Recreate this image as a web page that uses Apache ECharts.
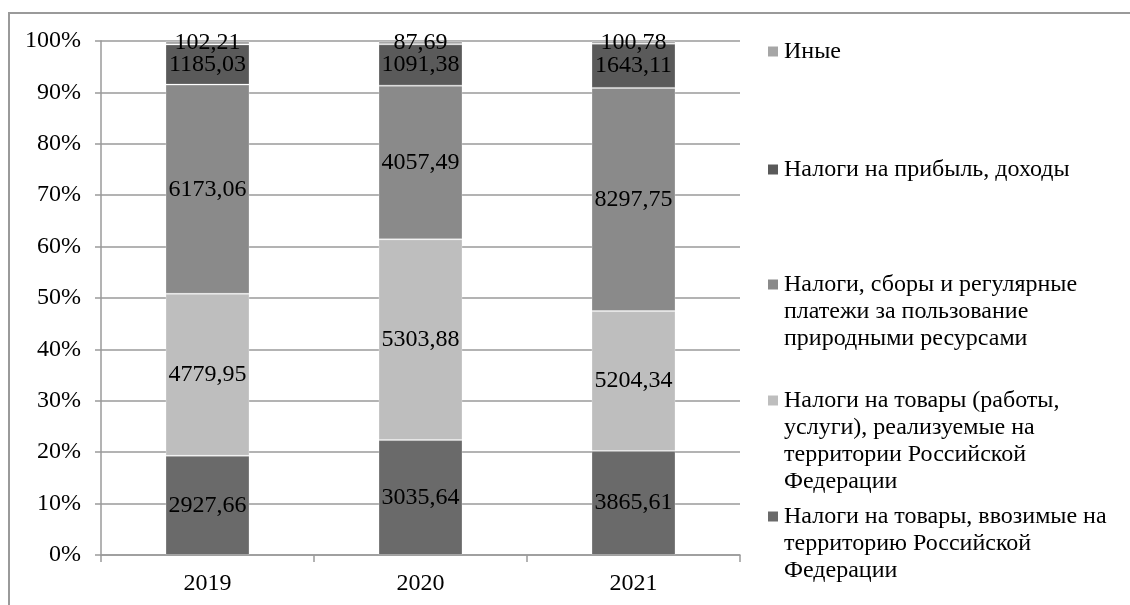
<!DOCTYPE html>
<html>
<head>
<meta charset="utf-8">
<script src="https://cdn.jsdelivr.net/npm/echarts@6/dist/echarts.min.js"></script>
<style>
html,body{margin:0;padding:0;background:#fff;}
#chart{width:1130px;height:605px;}
</style>
</head>
<body>
<div id="chart"></div>
<script>
// ---- data ----
var categories = ['2019', '2020', '2021'];
var importTaxes   = [2927.66, 3035.64, 3865.61]; // Налоги на товары, ввозимые на территорию РФ
var goodsTaxes    = [4779.95, 5303.88, 5204.34]; // Налоги на товары (работы, услуги), реализуемые на территории РФ
var resourceTaxes = [6173.06, 4057.49, 8297.75]; // Налоги, сборы и регулярные платежи за пользование природными ресурсами
var profitTaxes   = [1185.03, 1091.38, 1643.11]; // Налоги на прибыль, доходы
var otherTaxes    = [102.21, 87.69, 100.78];     // Иные
var yTickLabels = ['0%','10%','20%','30%','40%','50%','60%','70%','80%','90%','100%'];

var seriesNames = [
  'Налоги на товары, ввозимые на территорию Российской Федерации',
  'Налоги на товары (работы, услуги), реализуемые на территории Российской Федерации',
  'Налоги, сборы и регулярные платежи за пользование природными ресурсами',
  'Налоги на прибыль, доходы',
  'Иные'
];
var legendLines = [
  ['Налоги на товары, ввозимые на', 'территорию Российской', 'Федерации'],
  ['Налоги на товары (работы,', 'услуги), реализуемые на', 'территории Российской', 'Федерации'],
  ['Налоги, сборы и регулярные', 'платежи за пользование', 'природными ресурсами'],
  ['Налоги на прибыль, доходы'],
  ['Иные']
];
var seriesData = [importTaxes, goodsTaxes, resourceTaxes, profitTaxes, otherTaxes];
var colors = ['#6a6a6a', '#bebebe', '#8a8a8a', '#5a5a5a', '#a6a6a6'];
var legendTops = [503, 387, 271, 156, 38];

var FONT = "'Liberation Serif', 'DejaVu Serif', serif";
var FS = 24;

var totals = categories.map(function (c, i) {
  return seriesData.reduce(function (s, arr) { return s + arr[i]; }, 0);
});

var series = seriesData.map(function (arr, k) {
  return {
    name: seriesNames[k],
    type: 'bar',
    stack: 'total',
    barWidth: 84,
    itemStyle: { color: colors[k], borderColor: 'rgba(255,255,255,0.25)', borderWidth: 1 },
    label: {
      show: true,
      position: 'inside',
      color: '#000',
      fontFamily: FONT,
      fontSize: FS,
      formatter: function (p) { return p.data.raw.toFixed(2).replace('.', ','); }
    },
    data: arr.map(function (v, i) { return { value: v / totals[i] * 100, raw: v }; })
  };
});

var legends = seriesNames.map(function (name, k) {
  var rich = {
    m: { width: 10, height: 10, backgroundColor: colors[k], verticalAlign: 'middle' },
    s: { width: 10, height: 10, verticalAlign: 'middle' },
    t: { fontFamily: FONT, fontSize: FS, color: '#000', lineHeight: 27, padding: [0, 0, 0, 6], verticalAlign: 'middle' }
  };
  return {
    data: [name],
    orient: 'vertical',
    left: 762,
    top: legendTops[k],
    padding: 0,
    itemWidth: 0,
    itemHeight: 0,
    selectedMode: false,
    textStyle: { fontFamily: FONT, fontSize: FS, color: '#000', lineHeight: 27, rich: rich },
    formatter: function () {
      return legendLines[k].map(function (ln, j) {
        return (j === 0 ? '{m|}' : '{s|}') + '{t|' + ln + '}';
      }).join('\n');
    }
  };
});

var chart = echarts.init(document.getElementById('chart'), null, { renderer: 'canvas' });
chart.setOption({
  animation: false,
  backgroundColor: '#fff',
  textStyle: { fontFamily: FONT },
  graphic: [{
    type: 'rect',
    shape: { x: 9, y: 13, width: 1200, height: 700 },
    style: { fill: 'none', stroke: '#9a9a9a', lineWidth: 2 },
    silent: true,
    z: -10
  }],
  grid: { left: 101, right: 390, top: 41, bottom: 50 },
  legend: legends,
  xAxis: {
    type: 'category',
    data: categories,
    axisLine: { show: true, lineStyle: { color: '#9a9a9a', width: 1.5 } },
    axisTick: { show: true, alignWithLabel: false, length: 7, lineStyle: { color: '#9a9a9a', width: 1.5 } },
    axisLabel: { color: '#000', fontFamily: FONT, fontSize: FS, margin: 17 }
  },
  yAxis: {
    type: 'value',
    min: 0,
    max: 100,
    interval: 10,
    axisLine: { show: true, lineStyle: { color: '#9a9a9a', width: 1.5 } },
    axisTick: { show: true, length: 6, lineStyle: { color: '#9a9a9a', width: 1.5 } },
    splitLine: { show: true, lineStyle: { color: '#9a9a9a', width: 1.5 } },
    axisLabel: {
      color: '#000', fontFamily: FONT, fontSize: FS, margin: 20,
      formatter: function (v) { return yTickLabels[Math.round(v / 10)]; }
    }
  },
  series: series
});
</script>
</body>
</html>
